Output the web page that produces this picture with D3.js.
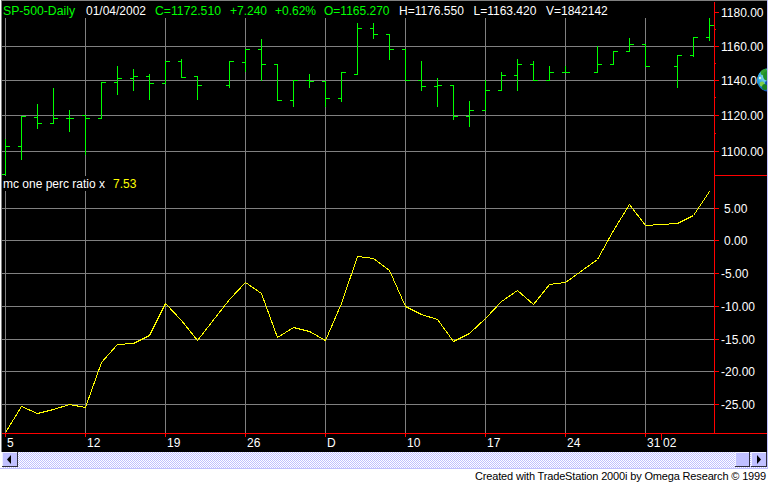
<!DOCTYPE html>
<html><head><meta charset="utf-8">
<script src="https://cdnjs.cloudflare.com/ajax/libs/d3/7.8.5/d3.min.js"></script>
<style>html,body{margin:0;padding:0;background:#fff;overflow:hidden}svg{display:block}text{font-family:"Liberation Sans",Arial,sans-serif;font-size:12px}</style>
</head><body>
<script>
// Daily sessions from 5 Nov 2001 to 4 Jan 2002; null = a slot with no bar
const opens =  [1087.2,1102.8,1118.9,1115.6,1118.3,1120.2,1118.3,1138.9,1141.2,1142.4,1138.3,1151.2,1142.4,null,1137.0,1150.6,1157.8,1149.4,1128.6,1140.0,1139.4,1129.7,1143.5,1170.5,1167.1,1158.2,1140.0,1136.8,1137.1,1119.4,1122.8,1134.2,1142.8,1149.4,1140.0,1144.7,null,1144.7,1149.4,1157.0,1161.2,null,1148.0,1154.6,1165.27];
const highs =  [1106.7,1119.3,1126.5,1135.6,1123.0,1120.2,1138.9,1148.4,1146.7,1143.7,1151.2,1152.4,1142.4,null,1150.8,1157.8,1163.8,1149.4,1140.0,1143.7,1139.4,1144.7,1173.7,1173.7,1167.1,1158.2,1150.8,1141.2,1137.1,1128.2,1140.0,1144.7,1152.5,1151.2,1148.0,1148.0,null,1159.8,1157.0,1164.8,1161.2,null,1154.6,1165.2,1176.55];
const lows =   [1086.9,1095.2,1112.6,1115.6,1110.7,1098.0,1118.3,1132.2,1134.5,1129.3,1138.3,1141.8,1129.3,null,1135.8,1145.5,1140.2,1128.6,1125.0,1135.8,1125.3,1128.2,1143.5,1164.4,1152.2,1140.0,1134.1,1125.3,1117.6,1114.0,1122.8,1134.2,1134.5,1140.0,1140.0,1144.7,null,1144.7,1149.4,1157.0,1148.0,null,1135.8,1153.8,1163.42];
const closes = [1102.8,1119.3,1115.6,1118.3,1118.3,1118.3,1138.9,1141.2,1142.2,1138.3,1151.2,1142.0,1137.0,null,1150.8,1157.8,1149.4,1128.6,1140.0,1139.4,1129.7,1144.7,1170.5,1167.1,1158.2,1140.0,1136.4,1137.1,1119.4,1122.8,1134.2,1142.8,1149.4,1140.0,1144.7,1144.7,null,1149.4,1157.0,1161.2,1148.0,null,1154.6,1165.2,1172.51];
const ratio =  [-29.3,-25.3,-26.3,-25.8,-25.0,-25.5,-18.6,-15.8,-15.6,-14.4,-9.5,-12.1,-15.2,null,-9.0,-6.4,-8.0,-14.7,-13.2,-13.9,-15.2,-9.6,-2.4,-2.7,-4.5,-10.0,-11.3,-12.0,-15.3,-14.1,-11.9,-9.2,-7.6,-9.7,-6.7,-6.4,null,-2.9,1.67,5.5,2.3,null,2.6,3.95,7.53];
const tickSlots = [0,5,10,15,20,25,30,35,40,41];
const tickLabels = ["5","12","19","26","D","10","17","24","31","02"];
const gridSlots = [0,5,10,15,20,25,30,35,40];
const priceTicks = [1100,1120,1140,1160,1180];
const priceMinor = [1110,1130,1150,1170];
const priceGrid = [1100,1120,1140,1160];
const ratioTicks = [5,0,-5,-10,-15,-20,-25];
const headerItems = [
 ["SP-500-Daily",3,"#00ff00",72],["01/04/2002",86,"#ffffff",60],["C=1172.510",155,"#00ff00",66],
 ["+7.240",230,"#00ff00",null],["+0.62%",275,"#00ff00",null],["O=1165.270",324,"#00ff00",null],
 ["H=1176.550",399,"#ffffff",null],["L=1163.420",473.5,"#ffffff",null],["V=1842142",546,"#ffffff",null]];

const W=769,H=483,RED="#ff0000",GRID="#808080",GREEN="#00ff00",YEL="#ffff00",BTN="#c0c0ff";
const svg=d3.select("body").append("svg").attr("width",W).attr("height",H);
svg.append("rect").attr("width",W).attr("height",H).attr("fill","#fff");
const pat=svg.append("defs").append("pattern").attr("id","dither").attr("width",2).attr("height",2).attr("patternUnits","userSpaceOnUse");
pat.append("rect").attr("width",2).attr("height",2).attr("fill","#fff");
pat.append("rect").attr("width",1).attr("height",1).attr("fill",BTN);
pat.append("rect").attr("x",1).attr("y",1).attr("width",1).attr("height",1).attr("fill",BTN);

svg.append("rect").attr("x",2).attr("y",1).attr("width",765).attr("height",451).attr("fill","#000");
const crisp=g=>g.attr("shape-rendering","crispEdges");
const frame=svg.append("g").call(crisp);
frame.append("rect").attr("x",1).attr("y",0).attr("width",767).attr("height",1).attr("fill",GRID);
frame.append("rect").attr("x",1).attr("y",0).attr("width",1).attr("height",452).attr("fill",GRID);

const x=d3.scaleLinear().domain([0,44]).range([5,709]);
const yP=d3.scaleLog().domain([1100,1180]).range([150.6,12]).interpolate(d3.interpolateRound);
const yR=d3.scaleLinear().domain([-25,5]).range([404.2,207.7]).interpolate(d3.interpolateRound);
const idx=d3.range(opens.length);

// grid
const grid=svg.append("g").call(crisp).attr("stroke",GRID).attr("fill","none");
grid.selectAll("line.v").data(gridSlots).join("line").attr("class","v")
 .attr("x1",d=>x(d)+.5).attr("x2",d=>x(d)+.5).attr("y1",18).attr("y2",433);
grid.selectAll("line.p").data(priceGrid).join("line").attr("class","p")
 .attr("x1",2).attr("x2",714).attr("y1",d=>yP(d)+.5).attr("y2",d=>yP(d)+.5);
grid.selectAll("line.r").data(ratioTicks).join("line").attr("class","r")
 .attr("x1",2).attr("x2",714).attr("y1",d=>yR(d)+.5).attr("y2",d=>yR(d)+.5);

// bars
const bars=svg.append("g").call(crisp).attr("stroke",GREEN).attr("fill","none");
bars.selectAll("path").data(idx.filter(i=>opens[i]!==null)).join("path")
 .attr("d",i=>{const c=x(i)+.5;
   return `M${c},${yP(highs[i])}V${yP(lows[i])+1}M${c-4},${yP(opens[i])+.5}H${c}M${c},${yP(closes[i])+.5}H${c+4}`;});

// indicator legend
svg.append("rect").attr("x",2).attr("y",176).attr("width",137).attr("height",15).attr("fill","#000");
svg.append("text").attr("x",3).attr("y",188).attr("fill","#fff").text("mc one perc ratio x");
svg.append("text").attr("x",113).attr("y",188).attr("fill",YEL).text("7.53");

// indicator line
const line=d3.line().defined(i=>ratio[i]!==null).x(i=>x(i)+.5).y(i=>yR(ratio[i])+.5);
svg.append("path").datum(idx.filter(i=>ratio[i]!==null)).attr("d",line)
 .attr("fill","none").attr("stroke",YEL).attr("stroke-width",1).call(crisp);

// header
svg.append("g").selectAll("text").data(headerItems).join("text")
 .attr("x",d=>d[1]).attr("y",15).attr("fill",d=>d[2]).attr("textLength",d=>d[3]).attr("lengthAdjust","spacingAndGlyphs").text(d=>d[0]);

// axes
function styleAxis(g){g.select(".domain").remove();g.selectAll("line").attr("stroke",RED).attr("shape-rendering","crispEdges");
 g.selectAll("text").attr("fill","#fff").style("font-family",'"Liberation Sans",Arial,sans-serif').style("font-size","12px");g.attr("font-size",null).attr("font-family",null);}
const fmt2=d3.format(".2f");
const gP=svg.append("g").attr("transform","translate(714,0)")
 .call(d3.axisRight(yP).tickValues(priceTicks).tickSize(5).tickPadding(2).tickFormat(fmt2)).call(styleAxis);
gP.selectAll("text").attr("dy","0.4em");
svg.append("g").attr("transform","translate(714,0)")
 .call(d3.axisRight(yP).tickValues(priceMinor).tickSize(2).tickFormat("")).call(styleAxis);
const gR=svg.append("g").attr("transform","translate(714,0)")
 .call(d3.axisRight(yR).tickValues(ratioTicks).tickSize(5).tickPadding(2).tickFormat(d=>fmt2(d).replace("\u2212","-"))).call(styleAxis);
gR.selectAll("text").attr("dy","0.4em").attr("x",d=>d<0?7:10);
const gX=svg.append("g").attr("transform","translate(0,433)")
 .call(d3.axisBottom(x).tickValues(tickSlots).tickSize(4).tickFormat((d,i)=>tickLabels[i])).call(styleAxis);
gX.selectAll("text").attr("text-anchor","start").attr("x",1.5).attr("y",14).attr("dy",0);
gX.selectAll("line").attr("y2",(d,i)=>tickLabels[i]==="02"?7:4);

const rules=svg.append("g").call(crisp).attr("fill",RED);
rules.append("rect").attr("x",714).attr("y",2).attr("width",1).attr("height",431);
rules.append("rect").attr("x",2).attr("y",433).attr("width",765).attr("height",1);
rules.append("rect").attr("x",714).attr("y",175).attr("width",53).attr("height",1);

// globe
const defs=svg.select("defs");
const gr=defs.append("radialGradient").attr("id","globeGrad").attr("cx","0.4").attr("cy","0.35").attr("r","0.7");
gr.append("stop").attr("offset","0").attr("stop-color","#bff4ff");
gr.append("stop").attr("offset","0.55").attr("stop-color","#1e9fe0");
gr.append("stop").attr("offset","1").attr("stop-color","#0a2f90");
defs.append("clipPath").attr("id","gc").append("circle").attr("cx",769).attr("cy",80).attr("r",12);
const globe=svg.append("g").attr("clip-path","url(#gc)");
globe.append("circle").attr("cx",769).attr("cy",80).attr("r",12).attr("fill","url(#globeGrad)");
[[764,72,3.5,"#2f9e2f"],[768,76,5,"#1f8f2a"],[762,84,2.5,"#7fd04a"],[765,87,3,"#18801f"],[760,78,1.2,"#d8f8d0"],[767,83,2,"#0f4fa8"]].forEach(b=>
 globe.append("circle").attr("cx",b[0]).attr("cy",b[1]).attr("r",b[2]).attr("fill",b[3]));

// window chrome: right edge, scrollbar, footer
svg.append("rect").attr("x",767).attr("y",0).attr("width",1).attr("height",469).attr("fill",BTN).call(crisp);
svg.append("rect").attr("x",768).attr("y",0).attr("width",1).attr("height",483).attr("fill","#fff").call(crisp);
svg.append("rect").attr("x",2).attr("y",452).attr("width",765).attr("height",16).attr("fill","url(#dither)").call(crisp);
svg.append("rect").attr("x",0).attr("y",468).attr("width",768).attr("height",1).attr("fill",BTN).call(crisp);
function button(bx,bw,arrow){
 const g=svg.append("g").call(crisp);
 g.append("rect").attr("x",bx).attr("y",452).attr("width",bw).attr("height",15).attr("fill","#303040");
 g.append("rect").attr("x",bx).attr("y",452).attr("width",bw-1).attr("height",14).attr("fill","#eef");
 g.append("rect").attr("x",bx+1).attr("y",453).attr("width",bw-2).attr("height",13).attr("fill",BTN);
 if(arrow===-1)g.append("path").attr("d",`M${bx+5},459.5L${bx+9},455V464Z`).attr("fill","#000").attr("shape-rendering","auto");
 if(arrow===1)g.append("path").attr("d",`M${bx+10},459.5L${bx+6},455V464Z`).attr("fill","#000").attr("shape-rendering","auto");
}
button(2,16,-1);button(735,15,0);button(751,16,1);
const footer=svg.append("text").attr("x",475).attr("y",479.5).attr("fill","#000").style("font-size","11px").text("Created with TradeStation 2000i by Omega Research \u00a9 1999");
const footerText=footer.text();
footer.style("letter-spacing",((291-footer.node().getComputedTextLength())/footerText.length).toFixed(3)+"px");
</script>
</body></html>
